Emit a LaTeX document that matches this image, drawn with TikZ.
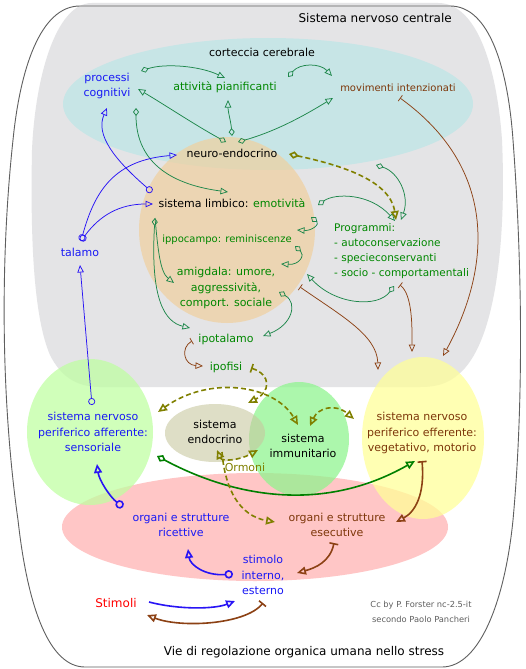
\documentclass[tikz,border=0pt]{standalone}
\usepackage{fontspec}
\setmainfont{DejaVu Sans}
\usetikzlibrary{arrows.meta}
\definecolor{tblue}{RGB}{25,25,245}
\definecolor{tgreen}{RGB}{0,135,0}
\definecolor{tbrown}{RGB}{125,55,10}
\definecolor{lgreen}{RGB}{30,135,75}
\definecolor{lgreenk}{RGB}{0,128,0}
\definecolor{lblue}{RGB}{40,20,245}
\definecolor{lbrown}{RGB}{140,65,20}
\definecolor{olv}{RGB}{128,128,0}
\definecolor{cnsgray}{RGB}{228,228,230}
\definecolor{edgegray}{RGB}{95,95,95}
\definecolor{credgray}{RGB}{95,95,95}
\definecolor{cyanf}{RGB}{180,230,230}
\definecolor{tanf}{RGB}{240,208,158}
\definecolor{affg}{RGB}{190,255,160}
\definecolor{endf}{RGB}{200,200,160}
\definecolor{immf}{RGB}{140,245,140}
\definecolor{yelf}{RGB}{255,255,150}
\definecolor{pinkf}{RGB}{255,180,180}
\tikzset{
  oT/.tip={Triangle[open,length=7.5pt,width=6.5pt]},
  oTT/.tip={Triangle[open,length=9pt,width=8pt]},
  oD/.tip={Diamond[open,length=8pt,width=6pt]},
  oDD/.tip={Diamond[open,length=10pt,width=7.5pt]},
  oC/.tip={Circle[open,length=7pt]},
  oCC/.tip={Circle[open,length=8.5pt]},
  oB/.tip={Bar[width=7pt]},
  oBB/.tip={Bar[width=9pt]},
  lbl/.style={font=\fontsize{11}{15.5}\selectfont, align=center, inner sep=0pt},
  smaller/.style={font=\fontsize{10}{15}\selectfont},
  gln/.style={draw=lgreen, line width=0.75pt},
  bln/.style={draw=lblue, line width=0.75pt},
  rln/.style={draw=lbrown, line width=0.75pt},
  gthk/.style={draw=lgreenk, line width=1.6pt},
  bthk/.style={draw=lblue, line width=1.6pt},
  rthk/.style={draw=lbrown, line width=1.6pt},
  odash/.style={draw=olv, line width=1.6pt, dash pattern=on 5pt off 3pt},
  blob/.style={fill opacity=#1},
}
\begin{document}
\begin{tikzpicture}[x=1pt,y=-1pt]
\fill[white] (0,0) rectangle (526,669);
\useasboundingbox (0,0) rectangle (526,669);
% central nervous system background
\fill[cnsgray] (92,3) -- (438,3) .. controls (478,3) and (497,70) .. (502,140)
  .. controls (506,230) and (498,330) .. (465,368) .. controls (452,382) and (440,387) .. (420,387)
  -- (100,387) .. controls (75,387) and (60,375) .. (50,355)
  .. controls (35,320) and (30,250) .. (32,150) .. controls (35,80) and (55,3) .. (92,3) -- cycle;
\draw[edgegray, line width=0.9pt] (80,6) -- (450,6) .. controls (490,6) and (508,70) .. (513,140)
  .. controls (522,260) and (524,400) .. (513,520) .. controls (505,600) and (480,667) .. (442,667)
  -- (85,667) .. controls (50,667) and (28,610) .. (18,520)
  .. controls (1,400) and (0,260) .. (13,140) .. controls (20,70) and (40,6) .. (80,6) -- cycle;
% regions
\fill[cyanf, blob=0.6] (268,104) ellipse [x radius=205pt, y radius=66pt];
\fill[tanf, blob=0.7] (227,230) ellipse [x radius=88pt, y radius=93pt];
\fill[pinkf, blob=0.75] (255,527) ellipse [x radius=193pt, y radius=54pt];
\fill[affg, blob=0.72] (90,432) ellipse [x radius=63pt, y radius=73pt];
\fill[immf, blob=0.72] (299,439) ellipse [x radius=50pt, y radius=57pt];
\fill[endf, blob=0.6] (215,433) ellipse [x radius=50pt, y radius=29pt];
\fill[yelf, blob=0.72] (423,438) ellipse [x radius=61pt, y radius=81pt];
% texts
\node[lbl, anchor=east, font=\fontsize{12}{15.5}\selectfont] (snc) at (452,18) {Sistema nervoso centrale};
\node[lbl] (cc) at (262,52) {corteccia cerebrale};
\node[lbl, text=tblue] (pc) at (107,86) {processi\\cognitivi};
\node[lbl, text=tgreen] (ap) at (225,87) {attività pianificanti};
\node[lbl, text=tbrown, smaller] (mi) at (398,88) {movimenti intenzionati};
\node[lbl] (ne) at (232,153) {neuro-endocrino};
\node[lbl] (sl) at (232,203) {sistema limbico: \textcolor{tgreen}{emotività}};
\node[lbl, text=tgreen, smaller] (ipp) at (227,240) {ippocampo: reminiscenze};
\node[lbl, text=tgreen] (am) at (226,288) {amigdala: umore,\\aggressività,\\comport. sociale};
\node[lbl, text=tgreen] (ipt) at (226,339) {ipotalamo};
\node[lbl, text=tgreen] (ipf) at (226,367) {ipofisi};
\node[lbl, text=tgreen, align=left, anchor=west, font=\fontsize{10.5}{15}\selectfont] (pr) at (334,251) {Programmi:\\- autoconservazione\\- specieconservanti\\- socio - comportamentali};
\node[lbl, text=tblue] (ta) at (80,252) {talamo};
\node[lbl, text=tblue] (spa) at (93,432) {sistema nervoso\\periferico afferente:\\sensoriale};
\node[lbl] (se) at (215,432) {sistema\\endocrino};
\node[lbl] (si) at (303,446) {sistema\\immunitario};
\node[lbl, text=tbrown] (spe) at (422,433) {sistema nervoso\\periferico efferente:\\vegetativo, motorio};
\node[lbl, text=olv] (orm) at (245,467) {Ormoni};
\node[lbl, text=tblue] (oric) at (181,525) {organi e strutture\\ricettive};
\node[lbl, text=tbrown] (oese) at (337,525) {organi e strutture\\esecutive};
\node[lbl, text=tblue] (sto) at (263,575) {stimolo\\interno,\\esterno};
\node[lbl, text=red, font=\fontsize{12}{15}\selectfont] (sti) at (116,603) {Stimoli};
\node[font=\fontsize{8.3}{15}\selectfont, text=credgray, align=center, inner sep=0pt] (cr) at (421,612) {Cc by P. Forster nc-2.5-it\\secondo Paolo Pancheri};
\node[lbl, font=\fontsize{12}{15}\selectfont] (tit) at (304,652) {Vie di regolazione organica umana nello stress};
% connector end points
\coordinate (g1a) at (141,71);  \coordinate (g1b) at (225,78);
\coordinate (g2a) at (288,77);  \coordinate (g2b) at (332,76);
\coordinate (neL) at (226,142); \coordinate (neM) at (232,136); \coordinate (neR) at (238,142);
\coordinate (pcR) at (138,89);  \coordinate (apB) at (228,100); \coordinate (miL) at (333,98);
\coordinate (g6a) at (136,108); \coordinate (slT) at (228,192);
\coordinate (slR) at (318,205); \coordinate (prT) at (395,221);
\coordinate (g8a) at (376,165); \coordinate (prT2) at (401,220);
\coordinate (g9a) at (311,217); \coordinate (ippR) at (297,230);
\coordinate (g10a) at (295,246); \coordinate (amT) at (281,264);
\coordinate (slD) at (155,218); \coordinate (iptL) at (190,328); \coordinate (amL) at (174,283);
\coordinate (amR) at (279,292); \coordinate (iptR) at (263,336);
\coordinate (prD) at (394,286); \coordinate (amR2) at (307,274);
\coordinate (spaR) at (157,456); \coordinate (speL) at (415,461);
\coordinate (taC) at (81,241); \coordinate (neW) at (177,155); \coordinate (slW) at (153,204);
\coordinate (slC) at (152,192); \coordinate (pcB) at (107,108);
\coordinate (spaT) at (92,405); \coordinate (taB) at (80,265);
\coordinate (oricC) at (123,507); \coordinate (spaB) at (97,464);
\coordinate (stoC) at (233,574); \coordinate (oricB) at (188,549);
\coordinate (stiR) at (149,602); \coordinate (stoL) at (235,601);
\coordinate (miB) at (400,98); \coordinate (speT1) at (443,356);
\coordinate (prB) at (400,285); \coordinate (speT2) at (412,352);
\coordinate (amB) at (300,287); \coordinate (speT3) at (378,370);
\coordinate (iptB) at (192,341); \coordinate (ipfL) at (203,366);
\coordinate (speB) at (422,461); \coordinate (oeseR) at (396,522);
\coordinate (oeseT) at (334,543); \coordinate (stoR) at (297,573);
\coordinate (stoB) at (263,603); \coordinate (stiB) at (147,615);
\coordinate (neE) at (289,154); \coordinate (prT3) at (396,220);
\coordinate (ipfR) at (251,368); \coordinate (seT) at (248,403);
\coordinate (spaE) at (158,412); \coordinate (siT) at (298,425);
\coordinate (seB) at (217,450); \coordinate (siL) at (258,450);
\coordinate (siT2) at (310,426); \coordinate (speW) at (354,419);
\coordinate (seB2) at (222,452); \coordinate (oeseL) at (275,522);
% green connectors
\draw[gln, arrows={oD-oT}] (g1a) .. controls (165,63) and (200,66) .. (g1b);
\draw[gln, arrows={oD-oT}] (g2a) .. controls (300,63) and (320,63) .. (g2b);
\draw[gln, arrows={oD-oT}] (neL) .. controls (195,125) and (165,105) .. (pcR);
\draw[gln, arrows={oD-oT}] (neM) .. controls (231,122) and (228,112) .. (apB);
\draw[gln, arrows={oD-oT}] (neR) .. controls (280,130) and (310,112) .. (miL);
\draw[gln, arrows={oD-oT}] (g6a) .. controls (136,165) and (175,185) .. (slT);
\draw[gln, arrows={oD-oT}] (slR) .. controls (335,193) and (370,193) .. (prT);
\draw[gln, arrows={oD-oT}] (g8a) .. controls (398,172) and (410,195) .. (prT2);
\draw[gln, arrows={oD-oT}] (g9a) .. controls (320,224) and (312,231) .. (ippR);
\draw[gln, arrows={oD-oT}] (g10a) .. controls (305,255) and (300,265) .. (amT);
\draw[gln, arrows={oD-oT}] (slD) .. controls (150,300) and (165,322) .. (iptL);
\draw[gln, arrows={-oT}] (slD) .. controls (158,250) and (160,272) .. (amL);
\draw[gln, arrows={oD-oT}] (amR) .. controls (298,303) and (292,325) .. (iptR);
\draw[gln, arrows={oD-oT}] (prD) .. controls (378,308) and (335,305) .. (amR2);
\draw[gthk, arrows={oDD-oTT}] (spaR) .. controls (230,495) and (320,515) .. (speL);
% blue connectors
\draw[bln, arrows={oC-oT}] (taC) .. controls (95,190) and (115,160) .. (neW);
\draw[bln, arrows={oC-oT}] (taC) .. controls (100,215) and (120,204) .. (slW);
\draw[bln, arrows={oC-oT}] (slC) .. controls (115,160) and (95,135) .. (pcB);
\draw[bln, arrows={oC-oT}] (spaT) -- (taB);
\draw[bthk, arrows={oCC-oTT}] (oricC) .. controls (110,497) and (99,480) .. (spaB);
\draw[bthk, arrows={oCC-oTT}] (stoC) .. controls (205,576) and (190,565) .. (oricB);
\draw[bthk, arrows={-oTT}] (stiR) .. controls (180,610) and (215,609) .. (stoL);
% brown connectors
\draw[rln, arrows={oB-oT}] (miB) .. controls (500,170) and (490,270) .. (speT1);
\draw[rln, arrows={oB-oT}] (prB) .. controls (413,295) and (412,330) .. (speT2);
\draw[rln, arrows={oB-oT}] (amB) .. controls (340,315) and (377,335) .. (speT3);
\draw[rln, arrows={oB-oT}] (iptB) .. controls (180,348) and (184,365) .. (ipfL);
\draw[rthk, arrows={oBB-oTT}] (speB) .. controls (425,495) and (415,512) .. (oeseR);
\draw[rthk, arrows={oBB-oTT}] (oeseT) .. controls (330,562) and (315,568) .. (stoR);
\draw[rthk, arrows={oBB-oTT}] (stoB) .. controls (245,625) and (180,628) .. (stiB);
% olive dashed connectors
\draw[odash, arrows={oDD-oTT}] (neE) .. controls (340,165) and (390,180) .. (prT3);
\draw[odash, arrows={oBB-oTT}] (ipfR) .. controls (272,375) and (270,392) .. (seT);
\draw[odash, arrows={oTT-oTT}] (spaE) .. controls (210,375) and (275,385) .. (siT);
\draw[odash, arrows={oTT-oTT}] (seB) .. controls (222,462) and (240,460) .. (siL);
\draw[odash, arrows={oTT-oTT}] (siT2) .. controls (318,408) and (335,403) .. (speW);
\draw[odash, arrows={-oTT}] (seB2) .. controls (225,490) and (240,516) .. (oeseL);
\end{tikzpicture}
\end{document}
